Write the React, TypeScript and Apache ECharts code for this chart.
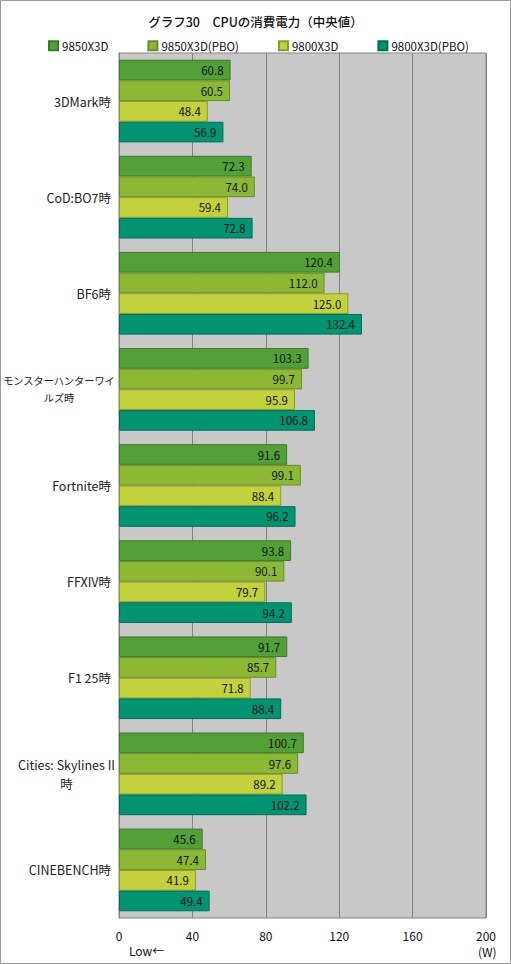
import React, { useEffect, useRef } from "react";
import * as echarts from "echarts";

const categories = [
  "3DMark時",
  "CoD:BO7時",
  "BF6時",
  "モンスターハンターワイルズ時",
  "Fortnite時",
  "FFXIV時",
  "F1 25時",
  "Cities: Skylines II時",
  "CINEBENCH時",
];
const seriesNames = ["9850X3D", "9850X3D(PBO)", "9800X3D", "9800X3D(PBO)"];
const s9850 = [60.8, 72.3, 120.4, 103.3, 91.6, 93.8, 91.7, 100.7, 45.6];
const s9850pbo = [60.5, 74.0, 112.0, 99.7, 99.1, 90.1, 85.7, 97.6, 47.4];
const s9800 = [48.4, 59.4, 125.0, 95.9, 88.4, 79.7, 71.8, 89.2, 41.9];
const s9800pbo = [56.9, 72.8, 132.4, 106.8, 96.2, 94.2, 88.4, 102.2, 49.4];
const xTicks = [0, 40, 80, 120, 160, 200];

const colors = ["#52a037", "#8cb935", "#c3d13d", "#009473"];
const borders = ["#3d7a28", "#6a8c27", "#8f9a2c", "#006e55"];
const labelBreaks: Record<string, string[]> = {
  "モンスターハンターワイルズ時": ["モンスターハンターワイ", "ルズ時"],
  "Cities: Skylines II時": ["Cities: Skylines II", "時"],
};

const FONT = "'Noto Sans CJK JP', 'Noto Sans', sans-serif";

export default function App() {
  const ref = useRef<HTMLDivElement>(null);
  useEffect(() => {
    if (!ref.current) return;
    const chart = echarts.init(ref.current, undefined, { renderer: "svg" });
    const data = [s9850, s9850pbo, s9800, s9800pbo];
    chart.setOption({
      animation: false,
      backgroundColor: "#ffffff",
      textStyle: { fontFamily: FONT },
      title: {
        text: "グラフ30　CPUの消費電力（中央値）",
        left: "center",
        top: 10,
        textStyle: { fontSize: 12.5, fontWeight: 500, color: "#111", fontFamily: FONT },
      },
      legend: {
        top: 35,
        left: 43,
        itemWidth: 9,
        itemHeight: 9,
        itemGap: 39,
        icon: "rect",
        textStyle: { fontSize: 11.5, color: "#111", fontFamily: FONT, padding: [0, 0, 0, -1] },
        data: seriesNames,
      },
      grid: {
        left: 119,
        right: 25,
        top: 53,
        bottom: 46,
        containLabel: false,
        outerBoundsMode: "none",
        show: true,
        backgroundColor: "#c8c8c8",
        borderColor: "#858585",
        borderWidth: 1,
      },
      xAxis: {
        type: "value",
        min: 0,
        max: 200,
        interval: 40,
        axisLine: { show: false },
        axisTick: { show: false },
        splitLine: { show: true, lineStyle: { color: "#808080", width: 1 } },
        axisLabel: {
          fontSize: 12,
          color: "#111",
          margin: 11,
          fontFamily: FONT,
          formatter: (v: number) => (xTicks.includes(v) ? String(v) : ""),
        },
      },
      yAxis: {
        type: "category",
        data: categories,
        inverse: true,
        axisLine: { show: true, lineStyle: { color: "#808080" } },
        axisTick: { show: false },
        axisLabel: {
          fontSize: 12.5,
          color: "#222",
          margin: 4,
          fontFamily: FONT,
          formatter: (v: string) => {
            const parts = labelBreaks[v];
            if (parts) {
              const st = /[ァ-ヶー]/.test(parts[0]) ? "k" : "c";
              return parts.map((p) => `{${st}|${p}}`).join("\n");
            }
            return `{r|${v}}`;
          },
          rich: {
            k: { align: "center", fontSize: 10.2, color: "#222", fontFamily: FONT, lineHeight: 17 },
            c: { align: "center", fontSize: 12.5, color: "#222", fontFamily: FONT, lineHeight: 19 },
            r: { fontSize: 12.5, color: "#222", fontFamily: FONT, padding: [0, 4, 0, 0] },
          },
        },
      },
      series: seriesNames.map((name, i) => ({
        name,
        type: "bar",
        data: data[i],
        barGap: "0%",
        barCategoryGap: "14%",
        itemStyle: { color: colors[i], borderColor: borders[i], borderWidth: 1 },
        label: {
          show: true,
          position: "insideRight",
          distance: 7,
          fontSize: 11.5,
          color: "#111",
          fontFamily: FONT,
          formatter: (p: any) => Number(p.value).toFixed(1),
        },
      })),
      graphic: [
        {
          type: "rect",
          shape: { x: 0.5, y: 0.5, width: 510, height: 963 },
          style: { fill: "none", stroke: "#9a9a9a", lineWidth: 1 },
          silent: true,
        },
        {
          type: "text",
          left: 129,
          top: 944,
          style: { text: "Low←", fontSize: 12, fill: "#111", fontFamily: FONT },
        },
        {
          type: "text",
          left: 478,
          top: 945,
          style: { text: "(W)", fontSize: 12, fill: "#111", fontFamily: FONT },
        },
      ],
    });
    return () => chart.dispose();
  }, []);
  return (
    <div
      ref={ref}
      style={{ position: "fixed", left: 0, top: 0, width: 511, height: 964 }}
    />
  );
}
